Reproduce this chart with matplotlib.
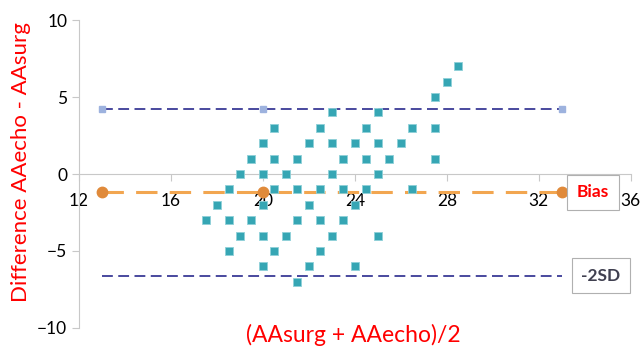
import matplotlib
matplotlib.use("Agg")
from matplotlib import pyplot as plt

plt.rcParams['font.family'] = ['Lato', 'DejaVu Sans']

# 数据点 (平均值, 差值)
mean_vals = [28.5, 28, 27.5,
             23, 25,
             20.5, 22.5, 24.5, 26.5, 27.5,
             20, 22, 23, 24, 25, 26,
             19.5, 20.5, 21.5, 23.5, 24.5, 25.5, 27.5,
             19, 20, 21, 23, 25,
             18.5, 20.5, 21.5, 22.5, 23.5, 24.5, 26.5,
             18, 20, 22, 24,
             17.5, 18.5, 19.5, 21.5, 22.5, 23.5,
             19, 20, 21, 23, 25,
             18.5, 20.5, 22.5,
             20, 22, 24,
             21.5]
diff_vals = [7, 6, 5,
             4, 4,
             3, 3, 3, 3, 3,
             2, 2, 2, 2, 2, 2,
             1, 1, 1, 1, 1, 1, 1,
             0, 0, 0, 0, 0,
             -1, -1, -1, -1, -1, -1, -1,
             -2, -2, -2, -2,
             -3, -3, -3, -3, -3, -3,
             -4, -4, -4, -4, -4,
             -5, -5, -5,
             -6, -6, -6,
             -7]

line_x = [13, 20, 33]
upper = 4.2
bias = -1.2
lower = -6.6

fig = plt.figure(figsize=(6.43, 3.47), dpi=100)
ax = fig.add_axes([0.123, 0.055, 0.858, 0.887])

ax.plot(line_x, [upper] * 3, color='#3a3a96', lw=1.3, dashes=(6, 3),
        marker='s', ms=5, mfc='#9db2de', mec='#9db2de')
ax.plot(line_x, [lower] * 3, color='#3a3a96', lw=1.3, dashes=(6, 3))
ax.plot(line_x, [bias] * 3, color='#f2a650', lw=2.2, dashes=(7, 4),
        marker='o', ms=7.5, mfc='#e08a3a', mec='#e08a3a')
ax.scatter(mean_vals, diff_vals, marker='s', s=26, color='#36a6b4',
           edgecolors='#8fd0d8', linewidths=0.6, zorder=3)

ax.set_xlim(12, 36)
ax.set_ylim(-10, 10)
ax.set_xticks([12, 16, 20, 24, 28, 32, 36])
ax.set_yticks([-10, -5, 0, 5, 10])
ax.set_yticklabels(['\u221210', '\u22125', '0', '5', '10'])

for s in ['top', 'right']:
    ax.spines[s].set_visible(False)
ax.spines['left'].set_color('#c8c8c8')
ax.spines['bottom'].set_color('#c8c8c8')
ax.spines['bottom'].set_position(('data', 0))
ax.tick_params(colors='#c8c8c8', labelcolor='black', labelsize=12.5, length=5)
ax.tick_params(axis='x', pad=9)

ax.text(33.65, bias, 'Bias', color='red', fontsize=12.5, fontweight='bold',
        va='center', ha='left',
        bbox=dict(boxstyle='square,pad=0.55', fc='white', ec='#b0b0b0', lw=0.8))
ax.text(33.85, lower, '-2SD', color='#404050', fontsize=12.5, fontweight='bold',
        va='center', ha='left',
        bbox=dict(boxstyle='square,pad=0.55', fc='white', ec='#b0b0b0', lw=0.8))

ax.set_ylabel('Difference AAecho - AAsurg', color='red', fontsize=16, labelpad=2)
ax.yaxis.set_label_coords(-0.088, 0.54)
fig.text(0.549, 0.066, '(AAsurg + AAecho)/2', color='red', fontsize=16.5,
         ha='center', va='top')

fig.savefig('out.png', dpi=100)
